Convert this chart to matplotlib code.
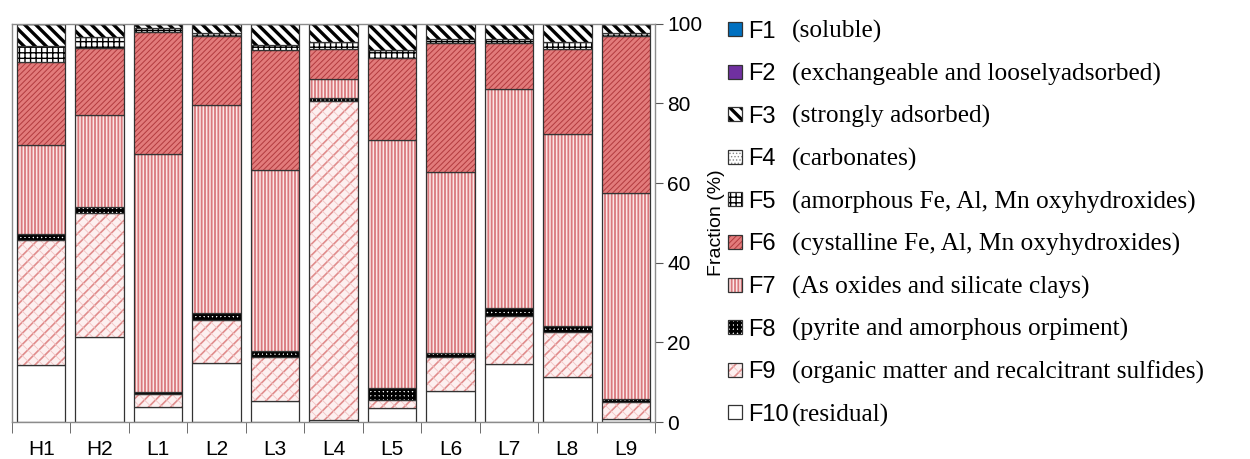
import matplotlib.pyplot as plt
import numpy as np
from matplotlib.patches import Rectangle

# 样品与各形态占比 (%)
samples = ['H1', 'H2', 'L1', 'L2', 'L3', 'L4', 'L5', 'L6', 'L7', 'L8', 'L9']
F10 = [14.3, 21.3, 3.7, 14.7, 5.3, 0.5, 3.4, 7.8, 14.6, 11.2, 0.8]
F9 = [31.3, 31.3, 3.3, 10.8, 11.0, 80.0, 2.1, 8.4, 12.1, 11.5, 4.3]
F8 = [1.6, 1.5, 0.5, 2.0, 1.6, 0.8, 3.0, 1.1, 1.9, 1.4, 0.7]
F7 = [22.4, 22.9, 59.8, 52.0, 45.4, 4.9, 62.4, 45.6, 55.0, 48.2, 51.6]
F6 = [20.9, 16.9, 30.7, 17.5, 30.2, 7.4, 20.6, 32.3, 11.6, 21.3, 39.5]
F5 = [4.0, 2.7, 1.0, 0.7, 1.1, 1.9, 2.0, 0.9, 1.1, 1.9, 0.8]
F4 = [0.0] * 11
F3 = [5.5, 3.4, 1.0, 2.3, 5.4, 4.5, 6.5, 3.9, 3.7, 4.5, 2.3]
F2 = [0.0] * 11
F1 = [0.0] * 11

codes = ['F1', 'F2', 'F3', 'F4', 'F5', 'F6', 'F7', 'F8', 'F9', 'F10']
names = ['(soluble)', '(exchangeable and looselyadsorbed)', '(strongly adsorbed)',
         '(carbonates)', '(amorphous Fe, Al, Mn oxyhydroxides)',
         '(cystalline Fe, Al, Mn oxyhydroxides)', '(As oxides and silicate clays)',
         '(pyrite and amorphous orpiment)', '(organic matter and recalcitrant sulfides)',
         '(residual)']

# 填充样式: 底色, 花纹列表 [(hatch, 颜色, 线宽)]
styles = {
    'F1': ('#0070c0', []),
    'F2': ('#7030a0', []),
    'F3': ('white', [('\\\\\\', 'black', 2.4)]),
    'F4': ('white', [('.....', '#888888', 0.6)]),
    'F5': ('white', [('+++', 'black', 1.0)]),
    'F6': ('#e27b7b', [('//////', '#b23a3e', 0.7)]),
    'F7': ('#fbe6e6', [('|||||', '#d9787c', 1.3)]),
    'F8': ('white', [('++++', 'black', 2.0)]),
    'F9': ('#fdf0f0', [('///', '#e08c8c', 1.2), ('\\\\\\', '#f2c4c4', 0.6)]),
    'F10': ('white', []),
}

plt.rcParams['font.family'] = ['Liberation Sans', 'DejaVu Sans']

fig = plt.figure(figsize=(12.5, 4.59), dpi=100)
ax = fig.add_axes([0.0096, 0.0806, 0.5144, 0.8675])

x = np.arange(len(samples))
width = 0.83
stack = [('F10', F10), ('F9', F9), ('F8', F8), ('F7', F7), ('F6', F6),
         ('F5', F5), ('F4', F4), ('F3', F3), ('F2', F2), ('F1', F1)]


def set_hlw(patch, lw):
    if hasattr(patch, 'set_hatch_linewidth'):
        patch.set_hatch_linewidth(lw)


bottom = np.zeros(len(samples))
for code, vals in stack:
    vals = np.array(vals)
    face, hatches = styles[code]
    ax.bar(x, vals, width, bottom=bottom, color=face, edgecolor='none', linewidth=0)
    for h, hc, hlw in hatches:
        plt.rcParams['hatch.linewidth'] = hlw
        bars = ax.bar(x, vals, width, bottom=bottom, facecolor='none',
                      edgecolor=hc, linewidth=0, hatch=h)
        for b in bars:
            set_hlw(b, hlw)
    ax.bar(x, vals, width, bottom=bottom, facecolor='none',
           edgecolor='#333333', linewidth=0.9)
    bottom += vals

ax.set_xlim(-0.5, len(samples) - 0.5)
ax.set_ylim(0, 100)

for s in ax.spines.values():
    s.set_color('#8c8c8c')
    s.set_linewidth(1.0)

ax.set_xticks(x)
ax.set_xticklabels(samples, fontsize=15)
ax.set_xticks(np.arange(-0.5, len(samples)), minor=True)
ax.tick_params(axis='x', which='major', length=0, pad=13)
ax.tick_params(axis='x', which='minor', length=8, color='#555555', direction='out')

ax.yaxis.tick_right()
ax.yaxis.set_label_position('right')
ax.set_yticks([0, 20, 40, 60, 80, 100])
ax.tick_params(axis='y', length=6, color='#555555', labelsize=15, pad=3)
ax.set_ylabel('Fraction (%)', fontsize=14, labelpad=4, rotation=90)

# 图例 (手动绘制)
W, H = 1250.0, 459.0
for i, (code, name) in enumerate(zip(codes, names)):
    yc = 29 + 42.6 * i
    face, hatches = styles[code]
    y0 = 1 - (yc + 7) / H
    fig.add_artist(Rectangle((728 / W, y0), 14 / W, 14 / H, transform=fig.transFigure,
                             facecolor=face, edgecolor='none', linewidth=0))
    for h, hc, hlw in hatches:
        plt.rcParams['hatch.linewidth'] = hlw
        r = Rectangle((728 / W, y0), 14 / W, 14 / H, transform=fig.transFigure,
                      facecolor='none', edgecolor=hc, linewidth=0, hatch=h)
        set_hlw(r, hlw)
        fig.add_artist(r)
    fig.add_artist(Rectangle((728 / W, y0), 14 / W, 14 / H, transform=fig.transFigure,
                             facecolor='none', edgecolor='#333333', linewidth=0.9))
    fig.text(748 / W, 1 - yc / H, code, fontsize=17, va='center_baseline', ha='left')
    fig.text(792 / W, 1 - yc / H, name, fontsize=18.3, va='center_baseline', ha='left',
             family=['Liberation Serif', 'DejaVu Serif'])

fig.savefig('out.png', dpi=100)
